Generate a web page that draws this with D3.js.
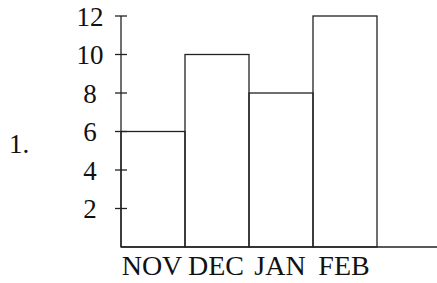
<!DOCTYPE html>
<html>
<head>
<meta charset="utf-8">
<script src="https://cdnjs.cloudflare.com/ajax/libs/d3/7.8.5/d3.min.js"></script>
<style>
  body { margin: 0; background: #fff; }
  svg text { font-family: "Liberation Serif", "DejaVu Serif", serif; fill: #111; }
  .frame { stroke: #222; stroke-width: 1.3; fill: none; }
</style>
</head>
<body>
<div id="chart"></div>
<script>
const months = ['NOV', 'DEC', 'JAN', 'FEB'];
const counts = [6, 10, 8, 12];
const yTicks = [2, 4, 6, 8, 10, 12];
const itemLabel = '1.';

const width = 437, height = 283;
const plotLeft = 121, plotTop = 16, plotBottom = 247, barW = 64;

const svg = d3.select('#chart').append('svg')
    .attr('width', width)
    .attr('height', height);

const x = d3.scaleBand()
    .domain(months)
    .range([plotLeft, plotLeft + barW * months.length])
    .padding(0);

const y = d3.scaleLinear()
    .domain([0, 12])
    .range([plotBottom, plotTop]);

// bars, open outlines
svg.append('g').selectAll('rect')
    .data(months)
    .enter().append('rect')
        .attr('class', 'frame')
        .attr('x', d => x(d))
        .attr('y', (d, i) => y(counts[i]))
        .attr('width', x.bandwidth())
        .attr('height', (d, i) => y(0) - y(counts[i]));

// baseline runs to the right edge
svg.append('line')
    .attr('class', 'frame')
    .attr('x1', plotLeft).attr('x2', width)
    .attr('y1', y(0)).attr('y2', y(0));

// y axis, labels centred in a column left of the ticks
const yAxis = svg.append('g')
    .attr('transform', `translate(${plotLeft},0)`);
yAxis.append('line')
    .attr('class', 'frame')
    .attr('y1', y(0)).attr('y2', y(12));
yAxis.selectAll('.tick')
    .data(yTicks)
    .enter().append('line')
        .attr('class', 'frame')
        .attr('x1', -6).attr('x2', 6)
        .attr('y1', d => y(d)).attr('y2', d => y(d));
yAxis.selectAll('text')
    .data(yTicks)
    .enter().append('text')
        .attr('x', -31)
        .attr('y', d => y(d))
        .attr('dy', '0.36em')
        .attr('text-anchor', 'middle')
        .style('font-size', '27px')
        .text(d => d);

// month labels
svg.append('g').selectAll('text')
    .data(months)
    .enter().append('text')
        .attr('x', d => x(d) + x.bandwidth() / 2 - 1)
        .attr('y', 275)
        .attr('text-anchor', 'middle')
        .style('font-size', '28px')
        .text(d => d);

svg.append('text')
    .attr('x', 9)
    .attr('y', 153)
    .style('font-size', '27px')
    .text(itemLabel);
</script>
</body>
</html>
